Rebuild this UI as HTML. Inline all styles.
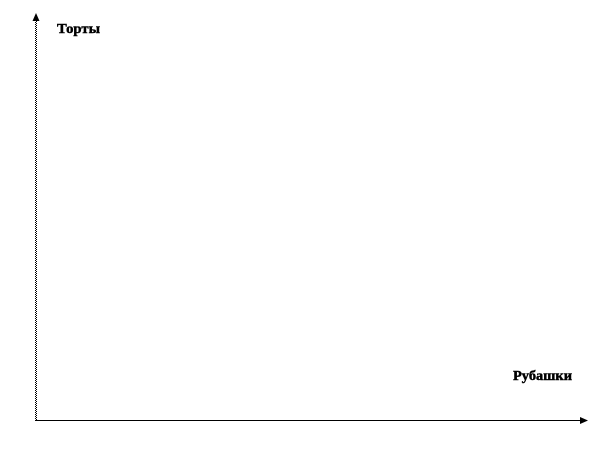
<!DOCTYPE html>
<html><head><meta charset="utf-8"><style>
html,body{margin:0;padding:0;background:#fff;width:612px;height:456px;overflow:hidden}
svg{display:block}
text{font-family:"Liberation Serif",serif;font-weight:bold;font-size:14px;fill:#000;stroke:#000;stroke-width:.45}
</style></head><body>
<svg width="612" height="456" viewBox="0 0 612 456" shape-rendering="crispEdges">
<line x1="35.5" y1="20" x2="35.5" y2="421" stroke="#000" stroke-dasharray="1 1"/>
<line x1="36.5" y1="21" x2="36.5" y2="421" stroke="#000" stroke-dasharray="1 1"/>
<polygon points="36,13 39.5,21 32.5,21" fill="#000" shape-rendering="auto"/>
<rect x="35" y="420" width="547" height="1" fill="#000"/>
<polygon points="588,420.5 580,417 580,424" fill="#000" shape-rendering="auto"/>
<text x="57" y="33" textLength="43" lengthAdjust="spacingAndGlyphs">Торты</text>
<text x="513" y="380" textLength="59" lengthAdjust="spacingAndGlyphs">Рубашки</text>
</svg>
</body></html>
